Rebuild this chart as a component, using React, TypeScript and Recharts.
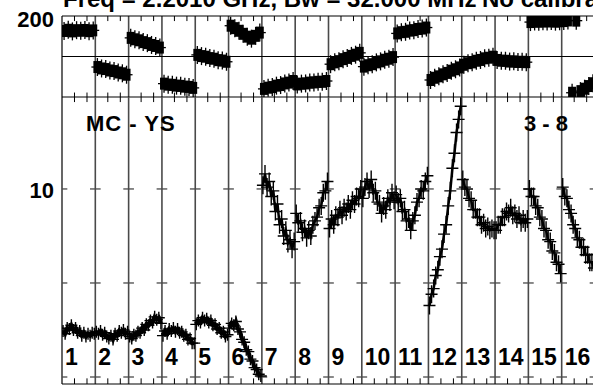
import { ScatterChart, Scatter, XAxis, YAxis, ReferenceLine } from "recharts";

// IF numbers along the bottom
const ifLabels = ["1", "2", "3", "4", "5", "6", "7", "8", "9", "10", "11", "12", "13", "14", "15", "16"];

const phaseTicks = [-200, 200];
const ampTicks = [0, 10];
const ampMarks = [0, 5, 10];

// phase (deg), 8 samples per IF
const phsIF1 = [126, 132, 124, 130, 127, 131, 125, 129];
const phsIF2 = [-52, -59, -62, -69, -72, -79, -83, -90];
const phsIF3 = [92, 85, 80, 71, 66, 57, 52, 44];
const phsIF4 = [-134, -139, -140, -144, -145, -149, -150, -155];
const phsIF5 = [8, 2, -1, -8, -11, -18, -20, -26];
const phsIF6 = [152, 140, 127, 112, 98, 88, 102, 118];
const phsIF7 = [-160, -154, -151, -144, -141, -133, -129, -121];
const phsIF8 = [-138, -134, -133, -129, -128, -125, -125, -121];
const phsIF9 = [-38, -29, -23, -13, -7, 3, 9, 18];
const phsIF10 = [-50, -43, -38, -29, -24, -16, -11, -3];
const phsIF11 = [114, 120, 122, 128, 130, 136, 138, 143];
const phsIF12 = [-116, -105, -98, -88, -81, -70, -63, -54];
const phsIF13 = [-41, -33, -29, -21, -17, -9, -6, -1];
const phsIF14 = [-17, -21, -21, -25, -24, -27, -26, -28];
const phsIF15 = [170, 173, 172, 174, 173, 175, 172, 174];
const phsIF16 = [175, 178, -179, 177, -171, -159, -146, -132];

// amplitude, 16 samples per IF
const ampIF1 = [2.45, 2.3, 2.6, 2.55, 2.75, 2.5, 2.6, 2.35, 2.45, 2.2, 2.35, 2.15, 2.3, 2.2, 2.35, 2.3];
const ampIF2 = [2.4, 2.3, 2.45, 2.25, 2.35, 2.15, 2.05, 2.2, 2.0, 2.3, 2.2, 2.45, 2.35, 2.5, 2.3, 2.4];
const ampIF3 = [2.15, 2.05, 2.25, 2.2, 2.4, 2.35, 2.6, 2.5, 2.8, 2.75, 3.0, 2.9, 3.2, 3.05, 3.15, 2.85];
const ampIF4 = [2.2, 2.45, 2.3, 2.55, 2.45, 2.6, 2.4, 2.55, 2.35, 2.4, 2.2, 2.25, 2.0, 2.05, 1.8, 1.8];
const ampIF5 = [2.8, 3.0, 2.9, 3.15, 3.0, 3.1, 2.9, 3.0, 2.75, 2.8, 2.55, 2.6, 2.35, 2.4, 2.15, 2.25];
const ampIF6 = [2.6, 2.85, 2.75, 2.95, 2.55, 2.4, 2.0, 1.85, 1.45, 1.35, 0.95, 0.85, 0.5, 0.4, 0.15, 0.05];
const ampIF7 = [10.2, 10.8, 10.1, 10.4, 9.6, 9.9, 8.8, 9.2, 8.1, 8.4, 7.5, 7.8, 7.1, 7.3, 6.8, 7.2];
const ampIF8 = [8.7, 8.2, 8.3, 7.7, 7.9, 7.4, 7.8, 7.5, 8.1, 8.3, 8.5, 9.0, 9.1, 9.8, 9.9, 10.4];
const ampIF9 = [7.9, 8.4, 8.1, 8.6, 8.5, 8.9, 8.6, 9.0, 8.8, 9.2, 8.9, 9.4, 9.2, 9.6, 9.5, 10.0];
const ampIF10 = [9.5, 10.1, 10.4, 10.0, 10.5, 9.8, 9.9, 9.3, 9.2, 8.7, 9.1, 8.9, 9.5, 9.3, 9.8, 9.4];
const ampIF11 = [9.7, 9.3, 9.5, 8.8, 8.9, 8.3, 8.4, 7.8, 8.3, 8.6, 9.3, 9.5, 10.0, 9.9, 10.4, 10.7];
const ampIF12 = [3.8, 4.4, 4.7, 5.4, 5.7, 6.4, 6.8, 7.6, 8.1, 9.1, 9.9, 11.1, 11.9, 13.0, 13.7, 14.4];
const ampIF13 = [10.5, 10.1, 10.0, 9.5, 9.4, 8.9, 8.9, 8.5, 8.5, 8.1, 8.2, 7.9, 8.0, 7.8, 7.9, 7.8];
const ampIF14 = [7.8, 8.1, 8.1, 8.5, 8.5, 8.8, 8.7, 9.0, 8.6, 8.7, 8.4, 8.6, 8.2, 8.4, 8.2, 8.4];
const ampIF15 = [10.0, 9.6, 9.6, 9.1, 9.0, 8.5, 8.4, 7.9, 7.8, 7.3, 7.2, 6.7, 6.6, 6.1, 6.0, 5.5];
const ampIF16 = [10.1, 9.6, 9.5, 8.9, 8.7, 8.1, 7.9, 7.4, 7.3, 6.9, 6.9, 6.5, 6.5, 6.1, 6.1, 5.8];

const phaseByIF = [phsIF1, phsIF2, phsIF3, phsIF4, phsIF5, phsIF6, phsIF7, phsIF8,
  phsIF9, phsIF10, phsIF11, phsIF12, phsIF13, phsIF14, phsIF15, phsIF16];
const ampByIF = [ampIF1, ampIF2, ampIF3, ampIF4, ampIF5, ampIF6, ampIF7, ampIF8,
  ampIF9, ampIF10, ampIF11, ampIF12, ampIF13, ampIF14, ampIF15, ampIF16];

// spread one IF's samples across its own unit of the x axis
const toPoints = (vals: number[], k: number) =>
  vals.map((v, j) => ({ x: k + (j + 0.5) / vals.length, y: v }));

const phaseData = phaseByIF.flatMap((vals, k) => toPoints(vals, k));
const ampSeries = ampByIF.map((vals, k) => toPoints(vals, k));

const AMP_MIN = -0.372;
const AMP_MAX = 14.89;
const FONT = "'Liberation Sans', Arial, Helvetica, sans-serif";
const GRID = "#4a4a4a";

const ifIdx = ifLabels.map((_, k) => k);
const minorX = ifIdx.flatMap((k) => [k + 0.375, k + 0.75]);

function PhaseMark(p: any) {
  const { cx, cy } = p;
  return (
    <g stroke="#000" strokeWidth={1.3}>
      <rect x={cx - 4} y={cy - 6} width={8} height={12} fill="#000" stroke="none" />
      <line x1={cx - 6} x2={cx + 6} y1={cy} y2={cy} />
      <line x1={cx} x2={cx} y1={cy - 9} y2={cy + 9} />
    </g>
  );
}

// "+" marks; the noisier IFs get longer error arms
const ampMark = (arm: number) => (p: any) => {
  const { cx, cy } = p;
  return (
    <path d={`M${cx - 6},${cy}H${cx + 6}M${cx},${cy - arm}V${cy + arm}`} stroke="#000" strokeWidth={1.4} fill="none" />
  );
};
const smallMark = ampMark(6);
const bigMark = ampMark(9);

function makeTick(dy: number) {
  return (p: any) => (
    <text x={54} y={p.y} dy={dy} textAnchor="end" dominantBaseline="central"
      fontFamily={FONT} fontWeight="bold" fontSize={22} fill="#000">
      {p.payload.value}
    </text>
  );
}

export default function App() {
  return (
    <div style={{ position: "fixed", left: 0, top: 0, width: 593, height: 386, overflow: "hidden", background: "#fff" }}>
      <div style={{ position: "absolute", left: 0, top: 0 }}>
        <ScatterChart width={595} height={100} margin={{ top: 16, right: 0, bottom: 3, left: 0 }}>
          <XAxis type="number" dataKey="x" domain={[0, 16]} hide allowDataOverflow />
          <YAxis type="number" dataKey="y" domain={[-200, 200]} ticks={phaseTicks} width={62}
            tickLine={false} axisLine={false} tick={makeTick(3)} allowDataOverflow />
          {ifIdx.map((k) => (
            <ReferenceLine key={"pv" + k} x={k} stroke={k === 0 ? "#000" : GRID} strokeWidth={k === 0 ? 1.2 : 1.6} ifOverflow="visible" />
          ))}
          <ReferenceLine y={200} stroke="#000" strokeWidth={1.2} ifOverflow="visible" />
          <ReferenceLine y={0} stroke="#000" strokeWidth={1} ifOverflow="visible" />
          <ReferenceLine y={-200} stroke="#000" strokeWidth={1.2} ifOverflow="visible" />
          {minorX.map((x) => (
            <ReferenceLine key={"pt" + x} segment={[{ x, y: 200 }, { x, y: 175 }]} stroke="#000" ifOverflow="visible" />
          ))}
          {minorX.map((x) => (
            <ReferenceLine key={"pb" + x} segment={[{ x, y: -200 }, { x, y: -178 }]} stroke="#000" ifOverflow="visible" />
          ))}
          <Scatter data={phaseData} shape={PhaseMark} isAnimationActive={false} />
        </ScatterChart>
      </div>
      <div style={{ position: "absolute", left: 0, top: 0 }}>
        <ScatterChart width={595} height={386} margin={{ top: 97, right: 0, bottom: 2, left: 0 }}>
          <XAxis type="number" dataKey="x" domain={[0, 16]} hide allowDataOverflow />
          <YAxis type="number" dataKey="y" domain={[AMP_MIN, AMP_MAX]} ticks={ampTicks} width={62}
            tickLine={false} axisLine={false} tick={makeTick(1.5)} allowDataOverflow />
          {ifIdx.map((k) => (
            <ReferenceLine key={"av" + k} x={k} stroke={k === 0 ? "#000" : GRID} strokeWidth={k === 0 ? 1.2 : 1.6} ifOverflow="visible" />
          ))}
          <ReferenceLine y={AMP_MIN} stroke="#000" strokeWidth={1.2} ifOverflow="visible" />
          {ampMarks.flatMap((v) =>
            [...ifIdx, 16].map((k) => (
              <ReferenceLine key={"am" + v + "-" + k}
                segment={[{ x: Math.max(0, k - 0.16), y: v }, { x: k + 0.16, y: v }]}
                stroke={GRID} strokeWidth={1.3} ifOverflow="visible" />
            ))
          )}
          {minorX.map((x) => (
            <ReferenceLine key={"at" + x} segment={[{ x, y: AMP_MAX }, { x, y: AMP_MAX - 0.27 }]} stroke="#000" ifOverflow="visible" />
          ))}
          {minorX.map((x) => (
            <ReferenceLine key={"ab" + x} segment={[{ x, y: AMP_MIN }, { x, y: AMP_MIN + 0.3 }]} stroke="#000" ifOverflow="visible" />
          ))}
          {ampSeries.map((pts, k) => (
            <Scatter key={"amp" + k} data={pts} shape={k < 6 ? smallMark : bigMark}
              line={{ stroke: "#000", strokeWidth: k < 6 ? 4 : 2.5 }}
              isAnimationActive={false} />
          ))}
        </ScatterChart>
      </div>
      <svg width={593} height={386} style={{ position: "absolute", left: 0, top: 0, pointerEvents: "none" }}
        fontFamily={FONT} fontWeight="bold" fill="#000">
        <text x={63} y={7} fontSize={24}>Freq = 2.2010 GHz, Bw = 32.000 MHz</text>
        <text x={482} y={7} fontSize={24}>No calibration</text>
        <text x={86} y={131} fontSize={22} letterSpacing={1}>MC - YS</text>
        <text x={524} y={131} fontSize={22}>3 - 8</text>
        {ifLabels.map((s, k) => (
          <text key={s} x={62 + k * 33.31 + 3} y={365} fontSize={23}>{s}</text>
        ))}
      </svg>
    </div>
  );
}
